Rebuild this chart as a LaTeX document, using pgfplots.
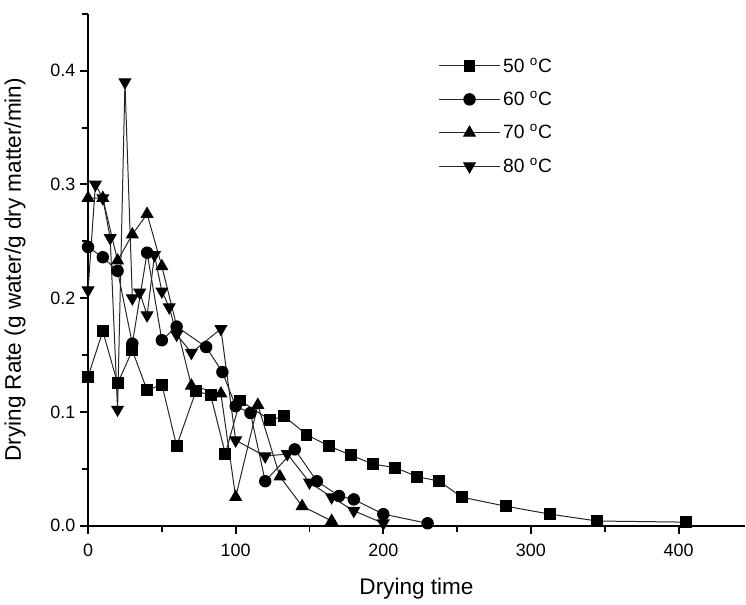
\documentclass[border=0pt]{standalone}
\usepackage{fontspec}
\setmainfont{Liberation Sans}
\usepackage{pgfplots}
\pgfplotsset{compat=1.18}

\begin{document}
\begin{tikzpicture}
\begin{axis}[
    scale only axis,
    width=495pt, height=385.5pt,
    xmin=0, xmax=445, ymin=0, ymax=0.45,
    axis x line=bottom, axis y line=left,
    axis line style={line width=1.5pt, -},
    xtick={0,100,...,400}, minor xtick={50,150,...,450},
    ytick={0,0.1,...,0.4}, minor ytick={0.05,0.15,...,0.45},
    xtick align=outside, ytick align=outside,
    major tick length=6pt, minor tick length=4.5pt,
    major tick style={line width=1.5pt, draw=black},
    minor tick style={line width=1.5pt, draw=black},
    /pgf/number format/assume math mode=true,
    yticklabel style={/pgf/number format/fixed, /pgf/number format/precision=1,
        /pgf/number format/fixed zerofill},
    scaled y ticks=false,
    tick label style={font=\fontsize{13.5}{15}\selectfont},
    xlabel={Drying time},
    ylabel={Drying Rate (g water/g dry matter/min)},
    label style={font=\fontsize{17}{19}\selectfont},
    xticklabel style={yshift=-4pt},
    xlabel style={yshift=-10pt},
    ylabel style={yshift=12pt},
    legend style={draw=none, fill=none, at={(0.527,0.925)}, anchor=north west,
        font=\fontsize{14.5}{16}\selectfont, row sep=9pt,
        legend cell align=left},
    legend image code/.code={
        \draw[mark repeat=2, mark phase=2] plot coordinates {(0pt,0pt) (23pt,0pt) (46pt,0pt)};},
    every axis plot/.append style={black!85, line width=0.75pt},
    extra description/.code={\path (rel axis cs:0,1) -- ++(0,10.5pt);},
]
% 50 C
\addplot[mark=square*, mark size=4.1pt, mark options={fill=black, draw=black}] coordinates {
(0,0.131) (10,0.171) (20,0.125) (30,0.154) (40,0.119) (50,0.124) (60,0.070)
(73,0.118) (83,0.115) (93,0.063) (103,0.110) (123,0.093) (133,0.096) (148,0.080)
(163,0.070) (178,0.062) (193,0.054) (208,0.051) (223,0.043) (238,0.039) (253,0.025)
(283,0.017) (313,0.010) (345,0.004) (405,0.003)
};
\addlegendentry{50 \textsuperscript{o}C}
% 60 C
\addplot[mark=*, mark size=4.3pt, mark options={fill=black, draw=black}] coordinates {
(0,0.245) (10,0.236) (20,0.224) (30,0.160) (40,0.240) (50,0.163) (60,0.175)
(80,0.157) (91,0.135) (100,0.105) (110,0.099) (120,0.039) (140,0.067) (155,0.039)
(170,0.026) (180,0.023) (200,0.010) (230,0.002)
};
\addlegendentry{60 \textsuperscript{o}C}
% 70 C
\addplot[mark=triangle*, mark size=5pt, mark options={fill=black, draw=black}] coordinates {
(0,0.288) (10,0.288) (20,0.233) (30,0.256) (40,0.274) (50,0.228) (70,0.123)
(90,0.116) (100,0.025) (115,0.106) (130,0.043) (145,0.017) (165,0.004)
};
\addlegendentry{70 \textsuperscript{o}C}
% 80 C
\addplot[mark=triangle*, mark size=5pt, mark options={fill=black, draw=black, rotate=180}] coordinates {
(0,0.207) (5,0.300) (10,0.288) (15,0.253) (20,0.102) (25,0.390) (30,0.200)
(35,0.205) (40,0.185) (45,0.238) (50,0.206) (55,0.192) (60,0.168) (70,0.152)
(90,0.173) (100,0.075) (120,0.061) (135,0.063) (150,0.038) (165,0.025)
(180,0.013) (200,0.002)
};
\addlegendentry{80 \textsuperscript{o}C}
\end{axis}
\end{tikzpicture}
\end{document}
